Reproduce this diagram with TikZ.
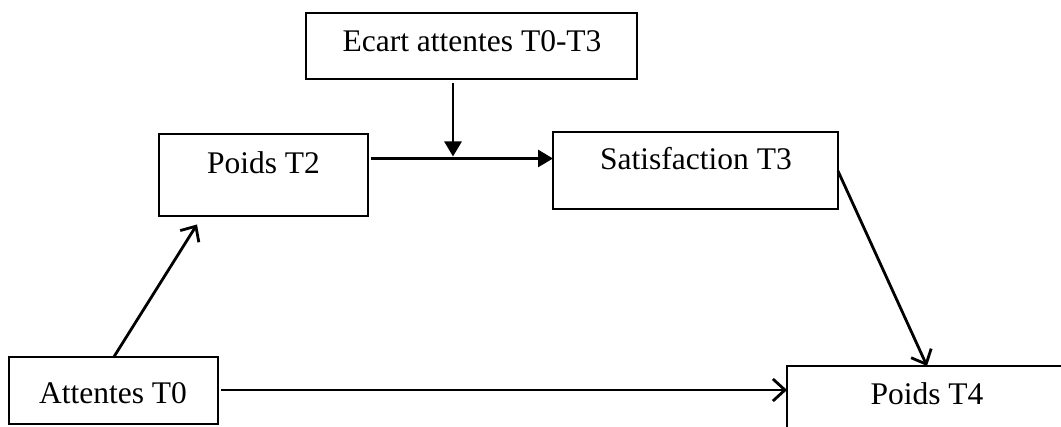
\documentclass[tikz,border=0pt]{standalone}
\usepackage{fontspec}
\setmainfont{Liberation Serif}
\usetikzlibrary{arrows.meta,calc}
\begin{document}
\begin{tikzpicture}[x=1pt,y=-1pt,
 box/.style={draw, line width=2pt, inner sep=0pt, outer sep=0pt, rectangle},
 lbl/.style={anchor=base, inner sep=0pt, font=\fontsize{31.5}{36}\selectfont},
 conn/.style={line width=2.8pt},
 openarr/.style={conn, -{Straight Barb[length=12pt,width=22pt,line width=2.8pt]}},
 fillarr/.style={conn, -{Triangle[length=15pt,width=17pt]}}]
\useasboundingbox (0,0) rectangle (1061,427);
\clip (0,0) rectangle (1061,427);
% boxes
\node[box, minimum width=331pt, minimum height=66pt] (ecart) at (471.5,46.5) {};
\node[box, minimum width=209pt, minimum height=82pt] (p2) at (263.5,175.5) {};
\node[box, minimum width=285pt, minimum height=77pt] (sat) at (695.5,171) {};
\node[box, minimum width=209pt, minimum height=67pt] (att) at (113.5,391) {};
\node[box, minimum width=288pt, minimum height=74pt] (p4) at (931,403) {};
% labels
\node[lbl] (tecart) at (472,52) {Ecart attentes T0-T3};
\node[lbl] (tp2) at (263.5,174) {Poids T2};
\node[lbl] (tsat) at (696,170) {Satisfaction T3};
\node[lbl] (tatt) at (113,404) {Attentes T0};
\node[lbl] (tp4) at (927,405) {Poids T4};
% connector points
\coordinate (p2out) at ($(p2.north east)+(3,24)$);
\coordinate (satin) at (sat.west |- p2out);
\coordinate (ecout) at ($(ecart.south)+(-18.5,4)$);
\coordinate (ecin) at ($(ecout |- p2out)+(0,-2)$);
\coordinate (p2in) at ($(p2.south west)+(38,8)$);
\coordinate (attout) at ($(att.east)+(3,-1)$);
\coordinate (p4in) at (attout -| p4.west);
\coordinate (p4top) at ($(p4.north west)+(140,0)$);
% connectors
\draw[fillarr] (p2out) -- (satin);
\draw[fillarr] (ecout) -- (ecin);
\draw[openarr] (att.north) -- (p2in);
\draw[openarr] (sat.east) -- (p4top);
\draw[openarr] (attout) -- (p4in);
\end{tikzpicture}
\end{document}
